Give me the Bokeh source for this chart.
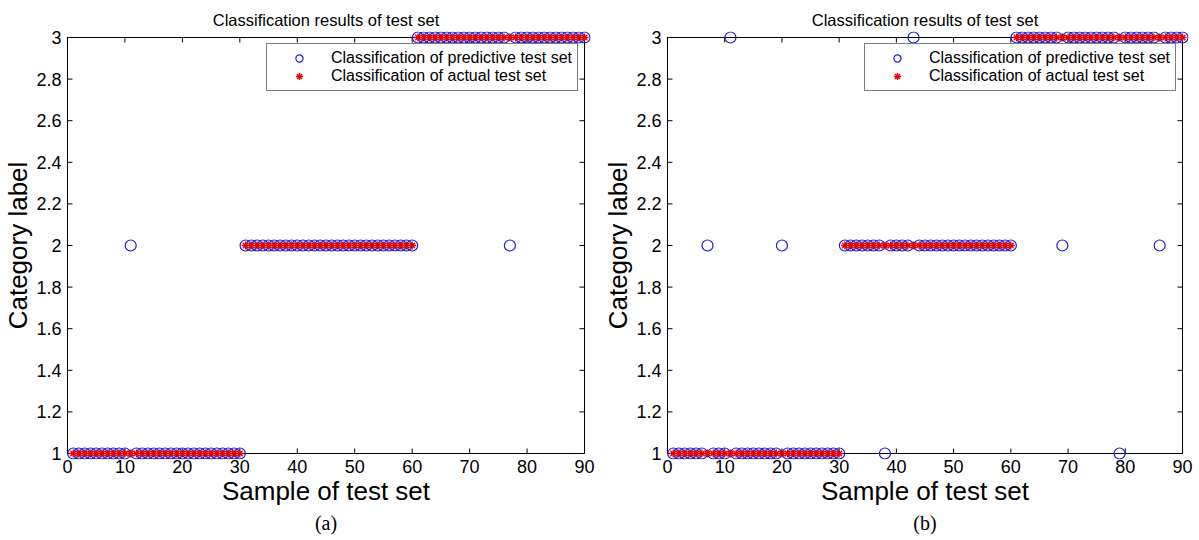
from bokeh.plotting import figure
from bokeh.layouts import row
from bokeh.models import Title, FixedTicker, Legend, LegendItem, ColumnDataSource, Range1d
from bokeh.embed import file_html
from bokeh.resources import INLINE

samples = list(range(1, 91))

actual = [1, 1, 1, 1, 1, 1, 1, 1, 1, 1, 1, 1, 1, 1, 1, 1, 1, 1, 1, 1, 1, 1, 1, 1, 1, 1, 1, 1, 1, 1,
          2, 2, 2, 2, 2, 2, 2, 2, 2, 2, 2, 2, 2, 2, 2, 2, 2, 2, 2, 2, 2, 2, 2, 2, 2, 2, 2, 2, 2, 2,
          3, 3, 3, 3, 3, 3, 3, 3, 3, 3, 3, 3, 3, 3, 3, 3, 3, 3, 3, 3, 3, 3, 3, 3, 3, 3, 3, 3, 3, 3]

pred_a = [1, 1, 1, 1, 1, 1, 1, 1, 1, 1, 2, 1, 1, 1, 1, 1, 1, 1, 1, 1, 1, 1, 1, 1, 1, 1, 1, 1, 1, 1,
          2, 2, 2, 2, 2, 2, 2, 2, 2, 2, 2, 2, 2, 2, 2, 2, 2, 2, 2, 2, 2, 2, 2, 2, 2, 2, 2, 2, 2, 2,
          3, 3, 3, 3, 3, 3, 3, 3, 3, 3, 3, 3, 3, 3, 3, 3, 2, 3, 3, 3, 3, 3, 3, 3, 3, 3, 3, 3, 3, 3]

pred_b = [1, 1, 1, 1, 1, 1, 2, 1, 1, 1, 3, 1, 1, 1, 1, 1, 1, 1, 1, 2, 1, 1, 1, 1, 1, 1, 1, 1, 1, 1,
          2, 2, 2, 2, 2, 2, 2, 1, 2, 2, 2, 2, 3, 2, 2, 2, 2, 2, 2, 2, 2, 2, 2, 2, 2, 2, 2, 2, 2, 2,
          3, 3, 3, 3, 3, 3, 3, 3, 2, 3, 3, 3, 3, 3, 3, 3, 3, 3, 1, 3, 3, 3, 3, 3, 3, 2, 3, 3, 3, 3]

x_ticks = [0, 10, 20, 30, 40, 50, 60, 70, 80, 90]
y_ticks = [1.0, 1.2, 1.4, 1.6, 1.8, 2.0, 2.2, 2.4, 2.6, 2.8, 3.0]

title_text = "Classification results of test set"
legend_pred = "Classification of predictive test set"
legend_act = "Classification of actual test set"
x_label = "Sample of test set"
y_label = "Category label"

SANS = "Liberation Sans"
BLUE = "#1a1ad0"
RED = "#e00000"

PAD = 6          # px of room round the axes box so edge markers are not cut
TOP = 37         # px, top of the axes box
BOTTOM = 453     # px, bottom of the axes box
LEFT = 65        # px, left of the axes box


def make_panel(pred, panel_label, width, box_right):
    box_w = box_right - LEFT
    box_h = BOTTOM - TOP
    x0, x1 = x_ticks[0], x_ticks[-1]
    y0, y1 = y_ticks[0], y_ticks[-1]
    px = (x1 - x0) * PAD / box_w
    py = (y1 - y0) * PAD / box_h

    p = figure(width=width, height=540, output_backend="svg", toolbar_location=None,
               x_range=Range1d(x0 - px, x1 + px), y_range=Range1d(y0 - py, y1 + py),
               min_border_left=LEFT - PAD, min_border_right=width - box_right - PAD,
               min_border_top=TOP - PAD, min_border_bottom=540 - BOTTOM - PAD)
    p.title.text = title_text
    p.title.align = "center"
    p.title.text_font = SANS
    p.title.text_font_size = "16.5px"
    p.title.text_font_style = "normal"
    p.title.text_color = "black"
    p.title.standoff = 5
    p.grid.visible = False
    p.outline_line_color = None
    p.background_fill_color = "white"
    p.border_fill_color = "white"

    xa = p.xaxis[0]
    ya = p.yaxis[0]
    xa.ticker = FixedTicker(ticks=x_ticks)
    ya.ticker = FixedTicker(ticks=y_ticks)
    for ax in (xa, ya):
        ax.axis_line_color = None
        ax.major_tick_line_color = None
        ax.minor_tick_line_color = None
        ax.major_tick_in = 0
        ax.major_tick_out = 0
        ax.major_label_text_font = SANS
        ax.major_label_text_font_size = "18px"
        ax.major_label_text_color = "black"
        ax.axis_label_text_font = SANS
        ax.axis_label_text_font_size = "26px"
        ax.axis_label_text_font_style = "normal"
        ax.axis_label_text_color = "black"
        ax.major_label_standoff = 0
        ax.axis_label_standoff = 0
    xa.axis_label = x_label
    ya.axis_label = y_label

    # axes box and inward ticks on all four sides
    p.quad(left=x0, right=x1, bottom=y0, top=y1, fill_color=None,
           line_color="black", line_width=1)
    tick = dict(length=5, length_units="screen", angle_units="deg",
                line_color="black", line_width=1)
    p.ray(x=x_ticks, y=[y0] * len(x_ticks), angle=90, **tick)
    p.ray(x=x_ticks, y=[y1] * len(x_ticks), angle=-90, **tick)
    p.ray(x=[x0] * len(y_ticks), y=y_ticks, angle=0, **tick)
    p.ray(x=[x1] * len(y_ticks), y=y_ticks, angle=180, **tick)

    src = ColumnDataSource(dict(x=samples, pred=pred, act=actual))
    r1 = p.scatter("x", "pred", source=src, marker="circle", size=11,
                   fill_color=None, line_color=BLUE, line_width=1.2)
    r2 = p.scatter("x", "act", source=src, marker="asterisk", size=8,
                   line_color=RED, line_width=1.3)

    leg = Legend(items=[LegendItem(label=legend_pred, renderers=[r1]),
                        LegendItem(label=legend_act, renderers=[r2])],
                 location="top_right")
    leg.border_line_color = "black"
    leg.border_line_width = 1
    leg.label_text_font = SANS
    leg.label_text_font_size = "16px"
    leg.label_text_color = "black"
    leg.padding = 5
    leg.spacing = 0
    leg.margin = 12
    leg.glyph_width = 54
    leg.glyph_height = 18
    leg.label_height = 18
    leg.label_standoff = 5
    leg.background_fill_alpha = 1
    p.add_layout(leg)

    sub = Title(text=panel_label, align="center", text_font="Liberation Serif",
                text_font_size="20px", text_font_style="normal", text_color="black",
                standoff=2)
    p.add_layout(sub, "below")
    return p


pa = make_panel(pred_a, "(a)", 600, 584)
pb = make_panel(pred_b, "(b)", 599, 582)
layout = row(pa, pb)

open("out.html", "w").write(file_html(layout, INLINE))
